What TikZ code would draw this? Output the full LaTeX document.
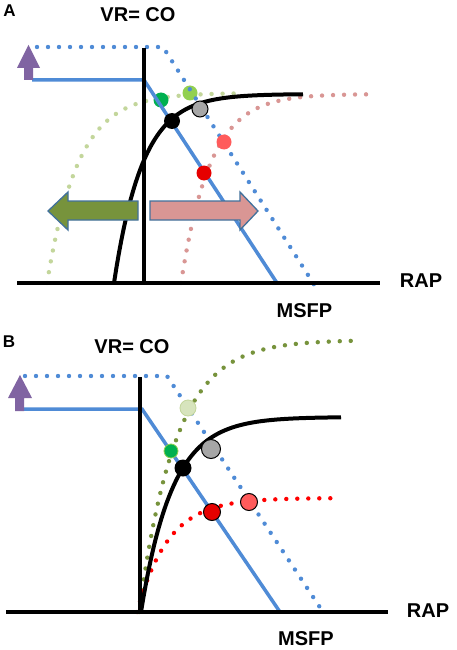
\documentclass[tikz,border=0pt]{standalone}
\usepackage{fontspec}
\setmainfont{Liberation Sans}
\usetikzlibrary{positioning}
\definecolor{vrBlue}{HTML}{4F8BD6}
\definecolor{shiftPurple}{HTML}{8064A2}
\definecolor{shiftOlive}{HTML}{77933C}
\definecolor{shiftRose}{HTML}{D99694}
\definecolor{shiftEdge}{HTML}{41719C}
\definecolor{paleGreen}{HTML}{C3D69B}
\definecolor{paleRose}{HTML}{D99694}
\definecolor{ptGreen}{HTML}{00B050}
\definecolor{ptLime}{HTML}{92D050}
\definecolor{ptPale}{HTML}{D7E4BD}
\definecolor{ptGray}{HTML}{A6A6A6}
\definecolor{ptRed}{HTML}{E60000}
\definecolor{ptSalmon}{HTML}{FF5B5B}

\tikzset{
  axisline/.style={line width=4pt},
  vrline/.style={vrBlue,line width=3.5pt},
  dotline/.style={line width=4.4pt,line cap=round,dash pattern=on 0pt off 11pt},
  cocurve/.style={line width=4pt},
  pt/.style={circle,inner sep=0pt,minimum size=#1},
  pt/.default=15pt,
  lbl/.style={font=\bfseries\fontsize{20}{24}\selectfont,anchor=base,inner sep=0pt},
  panel/.style={font=\bfseries\fontsize{17}{20}\selectfont,anchor=base,inner sep=0pt},
  shiftarrow/.style={draw=shiftEdge,line width=1.3pt,line join=miter},
}

\begin{document}
\begin{tikzpicture}[x=1pt,y=-1pt]
  \useasboundingbox[fill=white] (0,0) rectangle (457,650);

  % ---------- panel A ----------
  \node[panel] (a-tag) at (9.5,17) {A};
  \node[lbl] (a-vr) at (138,22) {VR= CO};
  \node[lbl] (a-rap) at (421,287) {RAP};
  \node[lbl] (a-msfp) at (304.5,317) {MSFP};

  % shifted cardiac function curves
  \draw[dotline,paleGreen] plot[domain=47:236,samples=70]
    (\x,{283-190*(1-exp(-0.032*(\x-47)))});
  \draw[dotline,paleRose] plot[domain=181:368,samples=70]
    (\x,{283-189*(1-exp(-0.034*(\x-181)))});

  \node[pt,fill=ptGreen] (a-green) at (161,100) {};
  \node[pt,fill=ptLime] (a-lime) at (190,93) {};

  % venous return
  \draw[vrline] (32,80) -- (144,80) -- (277,283);
  \draw[dotline,vrBlue] (37,47) -- (163,47) -- (315,286);

  % axes
  \draw[axisline] (17,283) -- (380,283);
  \draw[axisline] (144,48) -- (144,285);

  \draw[cocurve] plot[domain=114:303,samples=80]
    (\x,{283-189*(1-exp(-0.035*(\x-114)))});

  \node[pt=16pt,fill=black] (a-eq) at (172,121) {};
  \node[pt=16pt,fill=ptGray,draw=black,line width=1pt] (a-gray) at (200,109) {};
  \node[pt,fill=ptSalmon] (a-salmon) at (224,142) {};
  \node[pt,fill=ptRed] (a-red) at (204,173) {};

  % upward shift of venous return
  \fill[shiftPurple] (28.5,45) -- (40,68) -- (33,68) -- (33,80) -- (24,80)
    -- (24,68) -- (17,68) -- cycle;

  % left / right shifts
  \filldraw[shiftarrow,fill=shiftOlive] (48,211) -- (68,192) -- (68,201)
    -- (138,201) -- (138,220) -- (68,220) -- (68,230) -- cycle;
  \filldraw[shiftarrow,fill=shiftRose] (258,211) -- (240,192) -- (240,201)
    -- (150,201) -- (150,220) -- (240,220) -- (240,230) -- cycle;

  % ---------- panel B ----------
  \node[panel] (b-tag) at (9,347) {B};
  \node[lbl] (b-vr) at (132,353) {VR= CO};
  \node[lbl] (b-rap) at (428,617) {RAP};
  \node[lbl] (b-msfp) at (306,645.5) {MSFP};

  \draw[dotline,shiftOlive] plot[domain=139:360,samples=80]
    (\x,{612-272*(1-exp(-0.027*(\x-139)))});
  \draw[dotline,red] plot[domain=137:336,samples=70]
    (\x,{612-114*(1-exp(-0.032*(\x-137)))});

  \draw[vrline] (23,409) -- (142,409) -- (280,612);
  \draw[dotline,vrBlue] (25,376) -- (167,376) -- (323,612);

  \draw[axisline] (6,612) -- (388,612);
  \draw[axisline] (140,377) -- (140,614);

  \draw[cocurve] plot[domain=141:341,samples=80]
    (\x,{612-195*(1-exp(-0.032*(\x-141)))});

  \node[pt=16pt,fill=ptPale,draw=paleGreen,line width=0.8pt] (b-pale) at (188,408) {};
  \node[pt=14pt,fill=ptGreen,draw=ptLime,line width=0.8pt] (b-green) at (171,451) {};
  \node[pt=17pt,fill=black] (b-eq) at (183,468) {};
  \node[pt=19pt,fill=ptGray,draw=black,line width=1pt] (b-gray) at (211,449) {};
  \node[pt=17pt,fill=ptRed,draw=black,line width=1pt] (b-red) at (212,512) {};
  \node[pt=17pt,fill=ptSalmon,draw=black,line width=1pt] (b-salmon) at (249,502) {};

  \fill[shiftPurple] (20,375) -- (32,398) -- (24,398) -- (24,411) -- (15,411)
    -- (15,398) -- (8,398) -- cycle;
\end{tikzpicture}
\end{document}
